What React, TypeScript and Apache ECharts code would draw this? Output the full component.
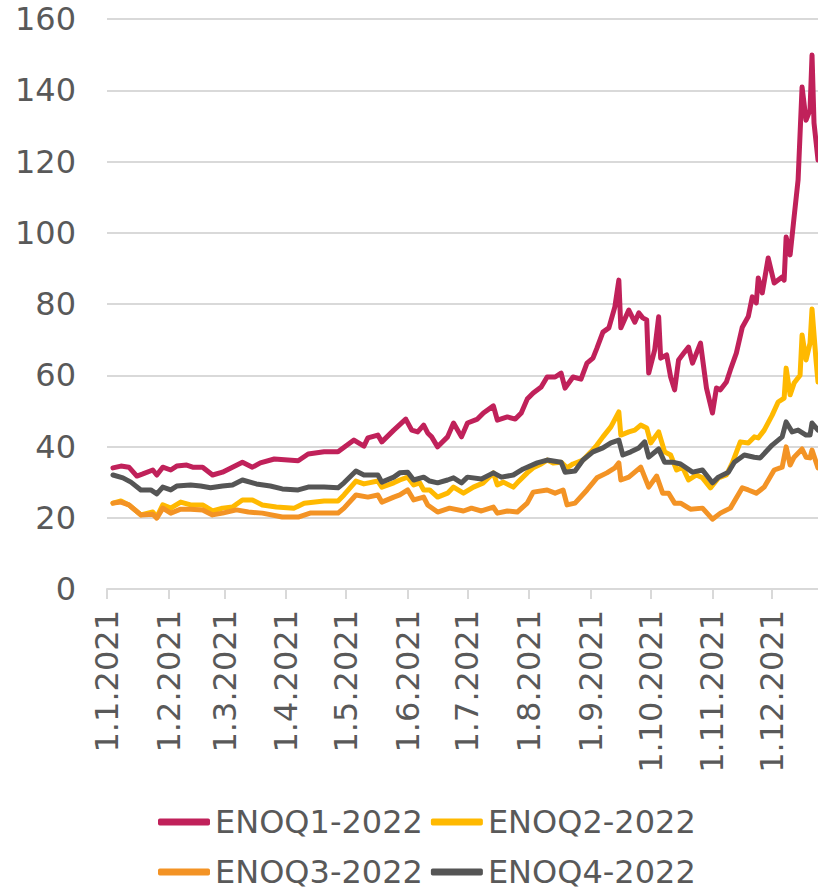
import React, { useEffect, useRef } from "react";
import * as echarts from "echarts";

const YEAR = 2021;
const seriesNames = ["ENOQ1-2022", "ENOQ2-2022", "ENOQ3-2022", "ENOQ4-2022"];
const seriesColors = ["#C0215A", "#FFB900", "#F39325", "#555555"];
const monthStarts = ["01-01", "02-01", "03-01", "04-01", "05-01", "06-01", "07-01", "08-01", "09-01", "10-01", "11-01", "12-01"];
const axisStart = "01-01";
const axisEnd = "12-24";
const yTicks = { min: 0, max: 160, step: 20 };

const q1: [string, number][] = [
  ["01-04", 34.0], ["01-08", 34.5], ["01-12", 34.2], ["01-16", 31.7], ["01-19", 32.3], ["01-24", 33.4], ["01-26", 32.0], ["01-29", 34.2],
  ["02-02", 33.4], ["02-05", 34.5], ["02-10", 34.8], ["02-13", 34.2], ["02-18", 34.2], ["02-23", 32.0], ["02-28", 32.8],
  ["03-05", 34.2], ["03-10", 35.6], ["03-15", 34.2], ["03-19", 35.4], ["03-26", 36.5],
  ["04-07", 36.0], ["04-12", 37.9], ["04-20", 38.5], ["04-27", 38.5],
  ["05-05", 41.8], ["05-10", 40.1], ["05-12", 42.4], ["05-17", 43.2], ["05-19", 41.3], ["05-25", 44.6], ["05-31", 47.7],
  ["06-03", 44.6], ["06-06", 44.1], ["06-09", 46.0], ["06-11", 43.8], ["06-13", 42.7], ["06-16", 39.9], ["06-21", 42.7], ["06-24", 46.6], ["06-28", 42.7],
  ["07-01", 46.6], ["07-06", 47.7], ["07-09", 49.4], ["07-14", 51.4], ["07-16", 47.4], ["07-21", 48.3], ["07-25", 47.7], ["07-28", 49.4], ["07-31", 53.3],
  ["08-03", 55.0], ["08-07", 56.7], ["08-10", 59.5], ["08-14", 59.5], ["08-17", 60.6], ["08-19", 56.4], ["08-23", 59.5], ["08-27", 58.9], ["08-30", 63.4],
  ["09-02", 64.8], ["09-04", 67.6], ["09-07", 72.1], ["09-10", 73.3], ["09-13", 79.2], ["09-15", 86.7], ["09-16", 73.3], ["09-20", 78.3], ["09-23", 74.9], ["09-25", 77.5], ["09-27", 76.1], ["09-29", 75.5], ["09-30", 60.6],
  ["10-03", 67.1], ["10-05", 76.4], ["10-06", 64.8], ["10-09", 65.7], ["10-11", 59.5], ["10-13", 55.9], ["10-15", 64.3], ["10-18", 66.5], ["10-20", 67.9], ["10-22", 63.4], ["10-24", 66.2], ["10-26", 69.0], ["10-29", 56.4],
  ["11-01", 49.4], ["11-03", 56.4], ["11-05", 55.9], ["11-08", 58.1], ["11-10", 61.5], ["11-13", 66.2], ["11-16", 73.5], ["11-19", 76.5], ["11-21", 82.0], ["11-23", 80.3], ["11-24", 87.3], ["11-26", 83.1], ["11-29", 92.9],
  ["12-02", 85.9], ["12-06", 87.6], ["12-07", 86.7], ["12-08", 98.8], ["12-10", 93.8], ["12-12", 104.4], ["12-14", 114.8], ["12-16", 140.9], ["12-18", 131.6], ["12-20", 134.5], ["12-21", 149.9], ["12-22", 130.8], ["12-24", 120.4],
];

const q2: [string, number][] = [
  ["01-04", 24.1], ["01-08", 24.7], ["01-12", 23.6], ["01-18", 20.8], ["01-24", 21.6], ["01-26", 20.2], ["01-29", 23.6],
  ["02-02", 22.7], ["02-07", 24.4], ["02-12", 23.6], ["02-18", 23.6], ["02-23", 21.9], ["02-28", 22.7],
  ["03-05", 23.0], ["03-10", 25.0], ["03-15", 25.0], ["03-20", 23.6], ["03-27", 23.0],
  ["04-05", 22.7], ["04-10", 24.1], ["04-20", 24.7], ["04-27", 24.7], ["04-30", 26.4],
  ["05-06", 30.3], ["05-10", 29.5], ["05-17", 30.3], ["05-19", 28.6], ["05-25", 29.8], ["05-28", 30.6],
  ["06-01", 31.4], ["06-04", 29.2], ["06-07", 29.8], ["06-09", 27.8], ["06-12", 27.8], ["06-16", 25.8], ["06-21", 26.9], ["06-24", 28.6], ["06-29", 26.9],
  ["07-04", 28.6], ["07-09", 29.8], ["07-14", 32.6], ["07-16", 29.2], ["07-19", 30.0], ["07-24", 28.6], ["07-26", 29.8], ["07-31", 32.6],
  ["08-03", 34.0], ["08-07", 35.1], ["08-10", 36.2], ["08-13", 35.4], ["08-17", 35.6], ["08-20", 34.0], ["08-23", 35.1], ["08-28", 36.2],
  ["09-01", 38.5], ["09-04", 40.4], ["09-07", 42.7], ["09-11", 45.5], ["09-15", 49.7], ["09-16", 43.2], ["09-20", 44.1], ["09-23", 44.6], ["09-26", 46.0], ["09-29", 45.2],
  ["10-01", 41.0], ["10-05", 44.1], ["10-08", 38.5], ["10-11", 37.6], ["10-14", 33.4], ["10-17", 34.2], ["10-20", 30.6], ["10-24", 32.0], ["10-27", 31.2], ["10-31", 28.4],
  ["11-04", 31.2], ["11-08", 32.0], ["11-11", 35.4], ["11-15", 41.3], ["11-19", 41.0], ["11-22", 42.7], ["11-24", 42.4], ["11-27", 44.6],
  ["12-01", 48.8], ["12-04", 52.5], ["12-07", 53.6], ["12-08", 62.0], ["12-10", 54.5], ["12-12", 57.8], ["12-15", 60.0], ["12-16", 71.3], ["12-18", 64.3], ["12-20", 69.0], ["12-21", 78.6], ["12-23", 64.3], ["12-24", 58.1],
];

const q3: [string, number][] = [
  ["01-04", 24.1], ["01-08", 24.4], ["01-12", 23.6], ["01-18", 20.8], ["01-24", 21.0], ["01-26", 19.9], ["01-29", 22.7],
  ["02-02", 21.3], ["02-07", 22.4], ["02-12", 22.4], ["02-18", 22.2], ["02-23", 20.8], ["02-28", 21.3],
  ["03-07", 22.2], ["03-13", 21.6], ["03-20", 21.3], ["03-30", 20.2],
  ["04-07", 20.2], ["04-13", 21.3], ["04-27", 21.3], ["04-30", 22.7],
  ["05-06", 26.4], ["05-12", 25.8], ["05-17", 26.4], ["05-19", 24.4], ["05-25", 25.8], ["05-28", 26.4],
  ["06-01", 27.8], ["06-04", 25.0], ["06-09", 25.8], ["06-11", 23.6], ["06-16", 21.6], ["06-22", 22.7], ["06-29", 21.9],
  ["07-03", 22.7], ["07-08", 21.9], ["07-14", 23.0], ["07-16", 21.3], ["07-21", 21.9], ["07-26", 21.6], ["07-31", 24.1],
  ["08-03", 27.2], ["08-10", 27.8], ["08-14", 26.9], ["08-18", 27.8], ["08-20", 23.6], ["08-24", 24.1], ["08-30", 27.8],
  ["09-04", 31.2], ["09-09", 32.6], ["09-13", 34.0], ["09-15", 35.4], ["09-16", 30.6], ["09-20", 31.4], ["09-26", 34.2], ["09-30", 28.6],
  ["10-04", 31.7], ["10-07", 26.9], ["10-10", 26.9], ["10-13", 24.1], ["10-16", 24.1], ["10-21", 22.4], ["10-27", 22.7],
  ["11-01", 19.6], ["11-05", 21.3], ["11-10", 22.7], ["11-16", 28.4], ["11-19", 27.8], ["11-23", 26.9], ["11-27", 28.6],
  ["12-02", 33.4], ["12-06", 34.2], ["12-08", 39.9], ["12-10", 34.8], ["12-12", 37.0], ["12-16", 39.3], ["12-18", 37.0], ["12-20", 36.8], ["12-21", 39.0], ["12-24", 34.0],
];

const q4: [string, number][] = [
  ["01-04", 32.0], ["01-09", 31.2], ["01-13", 30.0], ["01-18", 27.8], ["01-23", 27.8], ["01-26", 26.7], ["01-29", 28.6],
  ["02-02", 27.8], ["02-05", 28.9], ["02-12", 29.2], ["02-17", 28.9], ["02-22", 28.4], ["02-28", 28.9],
  ["03-05", 29.2], ["03-10", 30.6], ["03-17", 29.5], ["03-24", 28.9], ["03-30", 28.1],
  ["04-07", 27.8], ["04-12", 28.6], ["04-20", 28.6], ["04-27", 28.4], ["04-30", 29.8],
  ["05-06", 33.1], ["05-10", 32.0], ["05-17", 32.0], ["05-19", 30.0], ["05-25", 31.4], ["05-28", 32.6],
  ["06-01", 32.8], ["06-04", 30.6], ["06-09", 31.4], ["06-12", 30.3], ["06-16", 29.8], ["06-21", 30.6], ["06-24", 31.2], ["06-28", 29.8],
  ["07-01", 31.4], ["07-08", 30.9], ["07-14", 32.6], ["07-18", 31.4], ["07-24", 32.0], ["07-29", 33.7],
  ["08-05", 35.4], ["08-10", 36.2], ["08-17", 35.6], ["08-19", 32.8], ["08-24", 33.1], ["08-28", 36.2],
  ["09-02", 38.5], ["09-07", 39.6], ["09-11", 41.0], ["09-15", 41.8], ["09-17", 37.6], ["09-21", 38.5], ["09-25", 39.6], ["09-28", 41.3], ["09-30", 37.0],
  ["10-05", 39.3], ["10-08", 35.6], ["10-12", 35.6], ["10-16", 35.1], ["10-22", 32.8], ["10-27", 33.4],
  ["11-01", 29.8], ["11-04", 31.4], ["11-09", 32.8], ["11-12", 35.6], ["11-17", 37.6], ["11-22", 37.0], ["11-25", 36.8],
  ["12-01", 40.4], ["12-06", 42.7], ["12-08", 46.9], ["12-11", 44.1], ["12-14", 44.6], ["12-18", 43.2], ["12-20", 43.2], ["12-21", 46.6], ["12-24", 44.6],
];

const allSeries = [q1, q2, q3, q4];

const ts = (md: string) => {
  const [m, d] = md.split("-").map(Number);
  return new Date(YEAR, m - 1, d).getTime();
};

const FONT = "'DejaVu Sans', Verdana, sans-serif";
const TEXT_COLOR = "#595959";
const GRID_COLOR = "#D9D9D9";

export default function App() {
  const ref = useRef<HTMLDivElement>(null);

  useEffect(() => {
    document.body.style.margin = "0";
    if (!ref.current) return;
    const chart = echarts.init(ref.current, undefined, { renderer: "svg" });
    const monthTs = monthStarts.map(ts);
    const legendCommon = {
      left: 158,
      orient: "horizontal" as const,
      padding: 0,
      itemWidth: 52,
      itemHeight: 7,
      itemGap: 8,
      icon: "roundRect",
      textStyle: { fontSize: 32, color: TEXT_COLOR, fontFamily: FONT },
      selectedMode: false,
    };
    chart.setOption({
      animation: false,
      textStyle: { fontFamily: FONT },
      grid: { left: 107, right: 0, top: 19, bottom: 301, containLabel: false },
      legend: [
        { ...legendCommon, top: 806, data: [seriesNames[0], seriesNames[1]] },
        { ...legendCommon, top: 856, data: [seriesNames[2], seriesNames[3]] },
      ],
      xAxis: {
        type: "value",
        min: ts(axisStart),
        max: ts(axisEnd),
        axisLine: { show: true, lineStyle: { color: GRID_COLOR, width: 2 } },
        axisTick: { show: true, customValues: monthTs, length: 10, lineStyle: { color: GRID_COLOR, width: 2 } },
        axisLabel: {
          customValues: monthTs,
          rotate: 90,
          margin: 21,
          fontSize: 32,
          color: TEXT_COLOR,
          fontFamily: FONT,
          formatter: (v: number) => {
            const d = new Date(v);
            return `${d.getDate()}.${d.getMonth() + 1}.${d.getFullYear()}`;
          },
        },
        splitLine: { show: false },
      },
      yAxis: {
        type: "value",
        min: yTicks.min,
        max: yTicks.max,
        interval: yTicks.step,
        axisLine: { show: false },
        axisTick: { show: false },
        axisLabel: { fontSize: 32, color: TEXT_COLOR, margin: 31, fontFamily: FONT },
        splitLine: { show: true, lineStyle: { color: GRID_COLOR, width: 2 } },
      },
      series: allSeries.map((s, i) => ({
        name: seriesNames[i],
        type: "line",
        data: s.map(([d, v]) => [ts(d), v]),
        showSymbol: false,
        symbol: "none",
        color: seriesColors[i],
        lineStyle: { width: 5, color: seriesColors[i], join: "round", cap: "round" },
        clip: true,
      })),
    });
    return () => chart.dispose();
  }, []);

  return <div ref={ref} style={{ width: 818, height: 890 }} />;
}
